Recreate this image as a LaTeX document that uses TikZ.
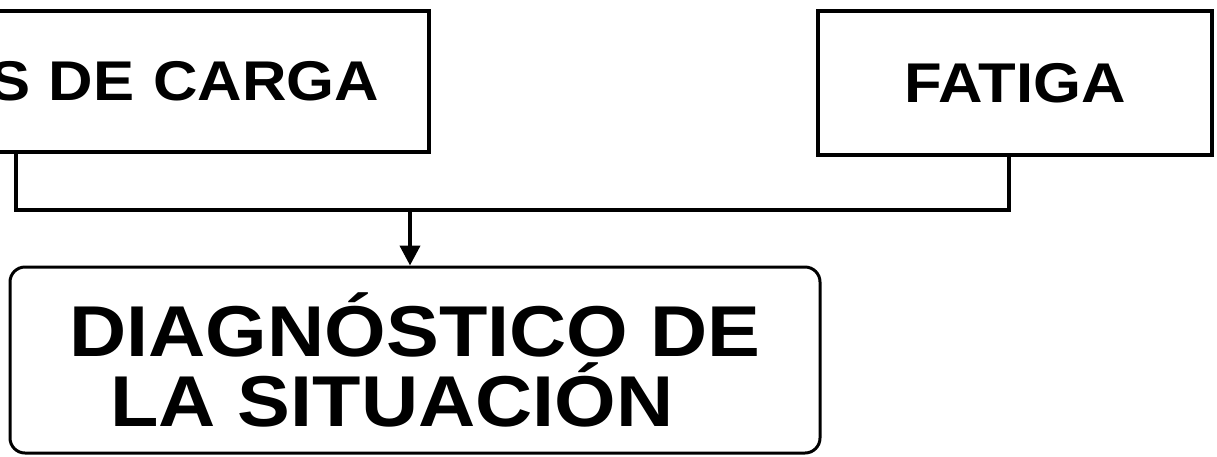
\documentclass[tikz,border=0pt]{standalone}
\usepackage{fontspec}
\newfontfamily\boxfont[FakeStretch=1.1]{Liberation Sans}
\usetikzlibrary{arrows.meta}
\begin{document}
\begin{tikzpicture}[x=1pt,y=-1pt,
  boxstyle/.style={draw=black, line width=4pt, fill=white, inner ysep=0pt, line join=miter,
    font=\boxfont\bfseries\fontsize{56}{60}\selectfont},
  diagstyle/.style={draw=black, line width=3pt, fill=white, inner sep=0pt, rounded corners=15pt,
    align=center, font=\boxfont\bfseries\fontsize{72}{70}\selectfont},
  link/.style={draw=black, line width=4pt, line join=miter},
  arrowlink/.style={draw=black, line width=4pt, -{Triangle[width=20pt,length=20pt]}},
]
\clip (0,0) rectangle (1217,456);
\useasboundingbox (0,0) rectangle (1217,456);
\fill[white] (0,0) rectangle (1217,456);
\node[boxstyle, anchor=north east, minimum height=141pt, text width=600pt, align=right, inner xsep=50pt]
  (carga) at (431,9) {S DE CARGA};
\node[boxstyle, minimum width=394pt, minimum height=144pt, inner xsep=0pt]
  (fatiga) at (1015,83) {FATIGA};
\node[diagstyle, minimum width=810pt, minimum height=186pt]
  (diag) at (415,360) {DIAGNÓSTICO DE\\LA SITUACIÓN\hspace*{46pt}};
\coordinate (lx) at (16,0);
\coordinate (rx) at (1009,0);
\coordinate (j) at (410,210);
\draw[link] (carga.south -| lx) |- (j) -| (fatiga.south -| rx);
\draw[arrowlink] (j) -- (diag.north -| j);
\end{tikzpicture}
\end{document}
